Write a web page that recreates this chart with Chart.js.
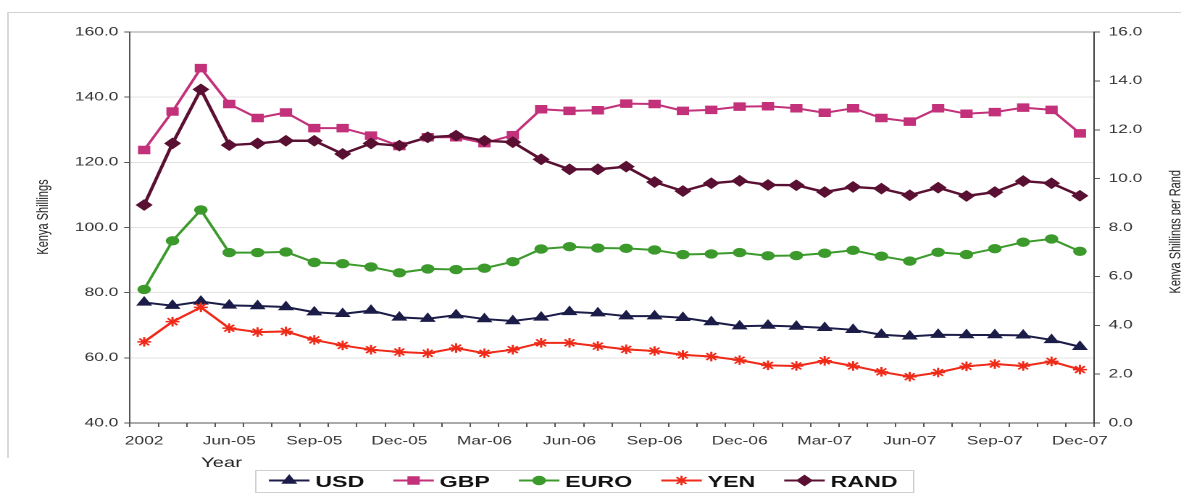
<!DOCTYPE html>
<html>
<head>
<meta charset="utf-8">
<script src="https://cdn.jsdelivr.net/npm/chart.js@4/dist/chart.umd.min.js"></script>
<style>
  html, body { margin: 0; padding: 0; background: #fff; overflow: hidden; }
  /* the chart is laid out narrow and stretched sideways */
  #wrap { position: absolute; left: 0; top: 0; width: 815px; height: 501px;
          transform: scaleX(1.4491); transform-origin: 0 0; }
</style>
</head>
<body>
<div id="wrap"><canvas id="chart"></canvas></div>
<script>
const months = ['2002', '2003', '2004', 'Jun-05', 'Jul-05', 'Aug-05', 'Sep-05', 'Oct-05', 'Nov-05',
    'Dec-05', 'Jan-06', 'Feb-06', 'Mar-06', 'Apr-06', 'May-06', 'Jun-06', 'Jul-06', 'Aug-06',
    'Sep-06', 'Oct-06', 'Nov-06', 'Dec-06', 'Jan-07', 'Feb-07', 'Mar-07', 'Apr-07', 'May-07',
    'Jun-07', 'Jul-07', 'Aug-07', 'Sep-07', 'Oct-07', 'Nov-07', 'Dec-07'];

const usd = [77.0, 76.0, 77.3, 76.1, 75.9, 75.6, 74.0, 73.5, 74.5, 72.4, 72.0, 73.1, 71.9, 71.3,
    72.4, 74.1, 73.7, 72.8, 72.8, 72.3, 71.0, 69.7, 69.9, 69.6, 69.2, 68.6, 67.1, 66.6,
    67.1, 67.0, 67.0, 66.9, 65.5, 63.4];
const gbp = [123.8, 135.6, 148.9, 137.9, 133.6, 135.3, 130.5, 130.5, 128.2, 125.0, 127.7, 127.7,
    125.9, 128.3, 136.3, 135.8, 136.0, 138.0, 137.9, 135.8, 136.1, 137.1, 137.2, 136.6,
    135.2, 136.6, 133.6, 132.5, 136.6, 134.9, 135.4, 136.8, 136.1, 128.9];
const euro = [81.0, 95.9, 105.4, 92.3, 92.3, 92.5, 89.3, 88.9, 87.9, 86.1, 87.3, 87.1, 87.5, 89.5,
    93.4, 94.1, 93.7, 93.6, 93.1, 91.7, 91.9, 92.3, 91.3, 91.4, 92.1, 93.0, 91.2, 89.7,
    92.4, 91.7, 93.5, 95.5, 96.5, 92.7];
const yen = [64.9, 71.1, 75.5, 69.1, 67.9, 68.1, 65.5, 63.8, 62.5, 61.8, 61.4, 63.0, 61.4, 62.5,
    64.6, 64.6, 63.6, 62.6, 62.1, 60.9, 60.4, 59.3, 57.7, 57.5, 59.1, 57.5, 55.7, 54.2,
    55.5, 57.4, 58.1, 57.5, 58.9, 56.4];
// rand is read against the right-hand axis
const rand = [8.92, 11.44, 13.65, 11.37, 11.44, 11.55, 11.55, 11.01, 11.44, 11.35, 11.69, 11.76,
    11.55, 11.49, 10.79, 10.38, 10.38, 10.49, 9.86, 9.49, 9.81, 9.91, 9.74, 9.73, 9.45,
    9.66, 9.59, 9.32, 9.63, 9.29, 9.45, 9.90, 9.81, 9.30];

const FONT = '"Liberation Sans", Arial, sans-serif';

const series = [
    { label: 'USD',  data: usd,  color: '#1c1c48', style: 'triangle', radius: 5.4, axis: 'yL', order: 4 },
    { label: 'GBP',  data: gbp,  color: '#c2317a', style: 'rect',     radius: 5.3, axis: 'yL', order: 3 },
    { label: 'EURO', data: euro, color: '#3c9a2c', style: 'circle',   radius: 4.2, axis: 'yL', order: 2 },
    { label: 'YEN',  data: yen,  color: '#ef2a18', style: 'star',     radius: 4.8, axis: 'yL', order: 1 },
    { label: 'RAND', data: rand, color: '#5a1032', style: 'rectRot',  radius: 5.2, axis: 'yR', order: 0 }
];

function drawMarker(ctx, s, x, y) {
    ctx.fillStyle = s.color;
    ctx.strokeStyle = s.color;
    ctx.lineWidth = s.style === 'star' ? 1.5 : 1;
    Chart.helpers.drawPoint(ctx, { pointStyle: s.style, radius: s.radius, rotation: 0, borderWidth: ctx.lineWidth }, x, y);
}

// titles, legend and the outer frame
const decorations = {
    id: 'decorations',
    afterDraw(chart) {
        const ctx = chart.ctx;
        ctx.save();

        ctx.strokeStyle = '#d2d2cc';
        ctx.lineWidth = 1;
        ctx.beginPath();
        ctx.moveTo(5.5, 458);
        ctx.lineTo(5.5, 12.5);
        ctx.lineTo(815, 12.5);
        ctx.stroke();

        ctx.fillStyle = '#222';
        ctx.font = '11px ' + FONT;
        ctx.textBaseline = 'middle';
        ctx.save();
        ctx.translate(30, 217);
        ctx.rotate(-Math.PI / 2);
        ctx.textAlign = 'center';
        ctx.fillText('Kenya Shillings', 0, 0);
        ctx.restore();

        // right title runs off the edge of the canvas
        ctx.save();
        ctx.translate(814.5, 170);
        ctx.rotate(-Math.PI / 2);
        ctx.textAlign = 'right';
        ctx.textBaseline = 'alphabetic';
        ctx.fillText('Kenya Shillings per Rand', 0, 0);
        ctx.restore();

        ctx.font = '14px ' + FONT;
        ctx.textAlign = 'left';
        ctx.fillText('Year', 138.7, 463);

        // legend box
        ctx.strokeStyle = '#cfcfcf';
        ctx.strokeRect(176.5, 470.5, 454, 22);
        let x = 185.6;
        ctx.font = 'bold 16px ' + FONT;
        series.forEach(s => {
            ctx.strokeStyle = s.color;
            ctx.lineWidth = 2;
            ctx.beginPath();
            ctx.moveTo(x, 480.5);
            ctx.lineTo(x + 28, 480.5);
            ctx.stroke();
            drawMarker(ctx, s, x + 14, 480.5);
            ctx.fillStyle = '#111';
            ctx.textBaseline = 'middle';
            ctx.fillText(s.label, x + 32, 482.5);
            x += 32 + ctx.measureText(s.label).width + 20;
        });

        ctx.restore();
    }
};

new Chart(document.getElementById('chart'), {
    type: 'line',
    data: {
        labels: months,
        datasets: series.map(s => ({
            label: s.label,
            data: s.data,
            yAxisID: s.axis,
            order: s.order,
            borderColor: s.color,
            backgroundColor: s.color,
            borderWidth: s.label === 'RAND' ? 2.4 : 2,
            pointStyle: s.style,
            pointRadius: s.radius,
            pointBorderWidth: s.style === 'star' ? 1.5 : 1,
            pointBackgroundColor: s.color,
            pointBorderColor: s.color,
            tension: 0,
            fill: false
        }))
    },
    options: {
        responsive: true,
        maintainAspectRatio: false,
        devicePixelRatio: 2,
        animation: false,
        layout: { padding: { top: 32, left: 0, right: 0, bottom: 0 } },
        plugins: { legend: { display: false }, tooltip: { enabled: false } },
        scales: {
            x: {
                offset: true,
                afterFit(scale) { scale.height = 78; },
                grid: { drawOnChartArea: false, offset: true, tickLength: 4, color: '#555' },
                border: { color: '#555' },
                ticks: {
                    autoSkip: false, maxRotation: 0, padding: 7,
                    color: '#333', font: { family: FONT, size: 12 },
                    callback: (v, i) => (i % 3 === 0 ? months[i] : '')
                }
            },
            yL: {
                position: 'left',
                min: 40, max: 160,
                afterFit(scale) { scale.width = 89.7; },
                grid: {
                    color: c => (c.tick && c.tick.value === 160 ? '#9c9c9c' : '#e2e2e2'),
                    tickColor: '#555', tickLength: 4
                },
                border: { color: '#555' },
                ticks: {
                    stepSize: 20, padding: 4,
                    color: '#333', font: { family: FONT, size: 12 },
                    callback: v => v.toFixed(1)
                }
            },
            yR: {
                position: 'right',
                min: 0, max: 16,
                afterFit(scale) { scale.width = 60; },
                grid: { drawOnChartArea: false, tickColor: '#555', tickLength: 4 },
                border: { color: '#444' },
                ticks: {
                    stepSize: 2, padding: 6,
                    color: '#333', font: { family: FONT, size: 12 },
                    callback: v => v.toFixed(1)
                }
            }
        }
    },
    plugins: [decorations]
});
</script>
</body>
</html>
